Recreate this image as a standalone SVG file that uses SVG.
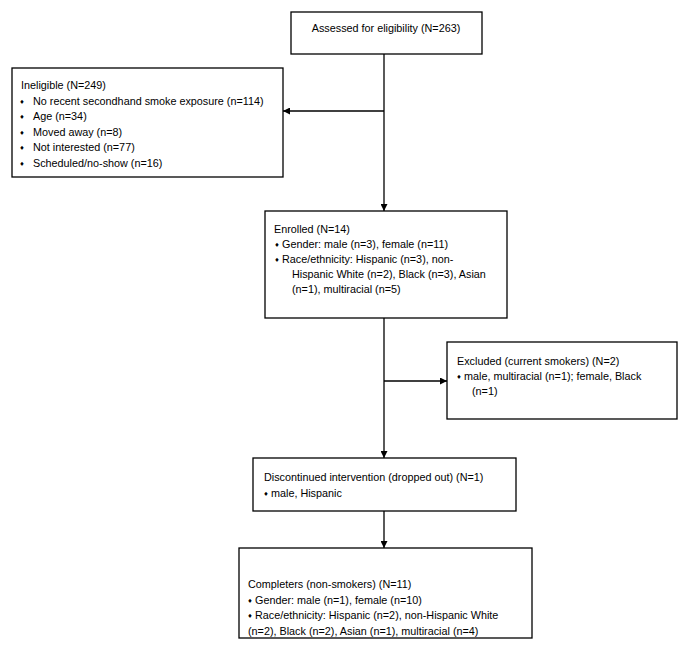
<svg xmlns="http://www.w3.org/2000/svg" width="693" height="649" viewBox="0 0 693 649">
<defs>
<marker id="arr" viewBox="0 0 10 10" refX="10" refY="5" markerWidth="7" markerHeight="7" markerUnits="userSpaceOnUse" orient="auto">
<path d="M0,0 L10,5 L0,10 z" fill="#000"/>
</marker>
<style>
.box{fill:#fff;stroke:#000;stroke-width:1.3}
.t{font-family:"Liberation Sans",Arial,sans-serif;font-size:10.8px;fill:#000}
.b{font-family:"DejaVu Sans",sans-serif;font-size:6px;fill:#000;text-anchor:middle}
.ln{stroke:#000;stroke-width:1.3;fill:none}
</style>
</defs>
<rect width="693" height="649" fill="#fff"/>
<g id="connectors">
<path class="ln" d="M384,54 V211" marker-end="url(#arr)"/>
<path class="ln" d="M384,111 H283" marker-end="url(#arr)"/>
<path class="ln" d="M384,318 V458" marker-end="url(#arr)"/>
<path class="ln" d="M384,381 H447" marker-end="url(#arr)"/>
<path class="ln" d="M384,511 V548" marker-end="url(#arr)"/>
</g>
<g id="assessed">
<rect class="box" x="291" y="12" width="191" height="42"/>
<text class="t" x="386" y="32" text-anchor="middle">Assessed for eligibility (N=263)</text>
</g>
<g id="ineligible">
<rect class="box" x="12" y="68" width="271" height="109"/>
<text class="t" x="21" y="89">Ineligible (N=249)</text>
<text class="b" x="22" y="103.5">♦</text><text class="t" x="33" y="105">No recent secondhand smoke exposure (n=114)</text>
<text class="b" x="22" y="118.5">♦</text><text class="t" x="33" y="120">Age (n=34)</text>
<text class="b" x="22" y="134.5">♦</text><text class="t" x="33" y="136">Moved away (n=8)</text>
<text class="b" x="22" y="149.5">♦</text><text class="t" x="33" y="151">Not interested (n=77)</text>
<text class="b" x="22" y="165.5">♦</text><text class="t" x="33" y="167">Scheduled/no-show (n=16)</text>
</g>
<g id="enrolled">
<rect class="box" x="265" y="211" width="242" height="107"/>
<text class="t" x="274" y="233">Enrolled (N=14)</text>
<text class="b" x="277" y="246.5">♦</text><text class="t" x="282" y="248">Gender: male (n=3), female (n=11)</text>
<text class="b" x="277" y="261.5">♦</text><text class="t" x="282" y="263">Race/ethnicity: Hispanic (n=3), non-</text>
<text class="t" x="292" y="278">Hispanic White (n=2), Black (n=3), Asian</text>
<text class="t" x="292" y="293">(n=1), multiracial (n=5)</text>
</g>
<g id="excluded">
<rect class="box" x="447" y="342" width="230" height="77"/>
<text class="t" x="457" y="365">Excluded (current smokers) (N=2)</text>
<text class="b" x="459" y="378.5">♦</text><text class="t" x="464" y="380">male, multiracial (n=1); female, Black</text>
<text class="t" x="472" y="395">(n=1)</text>
</g>
<g id="discontinued">
<rect class="box" x="253" y="458" width="263" height="53"/>
<text class="t" x="264" y="481">Discontinued intervention (dropped out) (N=1)</text>
<text class="b" x="266" y="495.5">♦</text><text class="t" x="271" y="497">male, Hispanic</text>
</g>
<g id="completers">
<rect class="box" x="239" y="548" width="293" height="90"/>
<text class="t" x="248" y="588">Completers (non-smokers) (N=11)</text>
<text class="b" x="250" y="602.5">♦</text><text class="t" x="255" y="604">Gender: male (n=1), female (n=10)</text>
<text class="b" x="250" y="617.5">♦</text><text class="t" x="255" y="619">Race/ethnicity: Hispanic (n=2), non-Hispanic White</text>
<text class="t" x="248" y="635">(n=2), Black (n=2), Asian (n=1), multiracial (n=4)</text>
</g>
</svg>
